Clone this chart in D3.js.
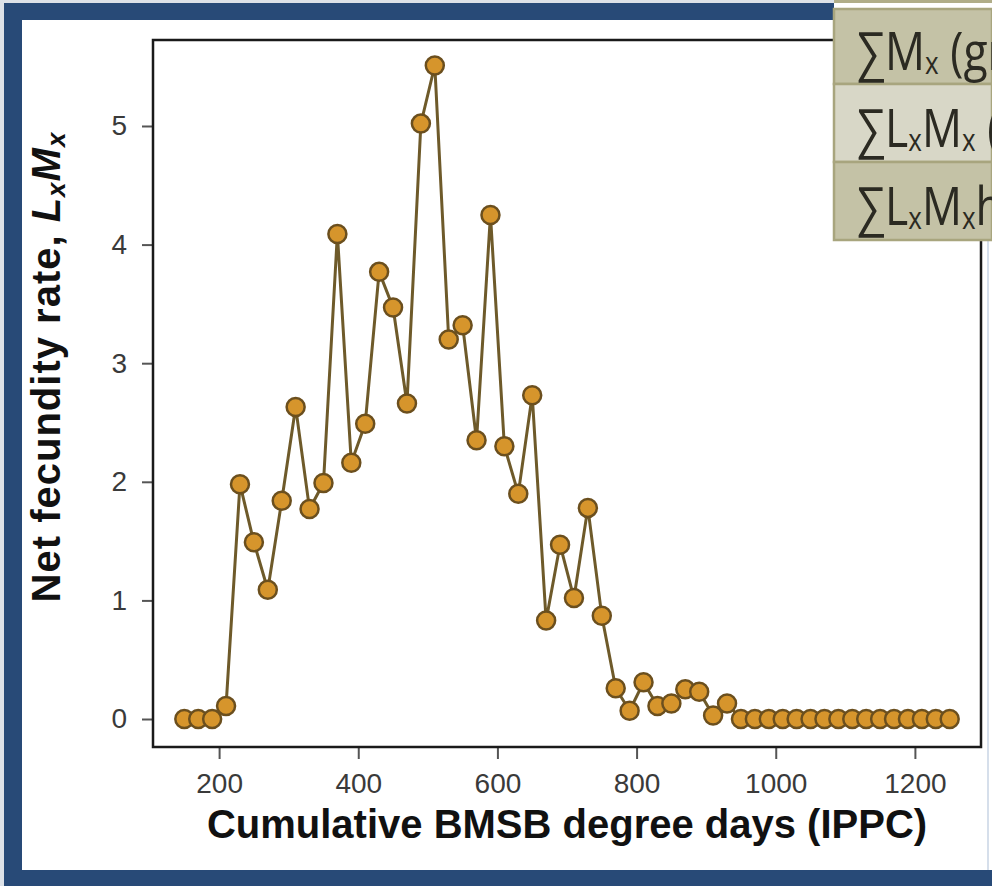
<!DOCTYPE html>
<html>
<head>
<meta charset="utf-8">
<script src="https://cdn.jsdelivr.net/npm/d3@7"></script>
<style>
  body { margin: 0; background: #fff; }
  svg { display: block; }
</style>
</head>
<body>
<div id="chart"></div>
<script>
var width = 992,
    height = 886;

// degree days (x) and net fecundity LxMx (y)
var degreeDays = [150, 170, 190, 210, 230, 250, 270, 290, 310, 330, 350, 370, 390, 410, 430, 450,
  470, 490, 510, 530, 550, 570, 590, 610, 630, 650, 670, 690, 710, 730, 750, 770, 790, 810, 830,
  850, 870, 890, 910, 930, 950, 970, 990, 1010, 1030, 1050, 1070, 1090, 1110, 1130, 1150, 1170,
  1190, 1210, 1230, 1250];
var fecundity = [0, 0, 0, 0.11, 1.98, 1.49, 1.09, 1.84, 2.63, 1.77, 1.99, 4.09, 2.16, 2.49, 3.77, 3.47,
  2.66, 5.02, 5.51, 3.2, 3.32, 2.35, 4.25, 2.3, 1.9, 2.73, 0.83, 1.47, 1.02, 1.78, 0.87, 0.26, 0.07,
  0.31, 0.11, 0.13, 0.25, 0.23, 0.03, 0.13, 0, 0, 0, 0, 0, 0, 0, 0, 0, 0, 0, 0, 0, 0, 0, 0];
var xTicks = [200, 400, 600, 800, 1000, 1200];
var yTicks = [0, 1, 2, 3, 4, 5];
var tableRows = ["M", "LM", "LMh"];

var data = degreeDays.map(function (d, i) { return { x: d, y: fecundity[i] }; });

var svg = d3.select("#chart")
  .append("svg")
  .attr("width", width)
  .attr("height", height);

// slide frame
svg.append("rect").attr("width", width).attr("height", height).attr("fill", "#dde2e8");
svg.append("rect").attr("x", 4).attr("y", 3).attr("width", width - 4).attr("height", height - 3).attr("fill", "#284a77");
svg.append("rect").attr("x", 22).attr("y", 20).attr("width", width - 22).attr("height", 850).attr("fill", "#fff");
svg.append("line").attr("x1", 988).attr("x2", 988).attr("y1", 20).attr("y2", 870)
  .attr("stroke", "#c9d5e4").attr("stroke-width", 1.5);

var mLeft = 153, mRight = 981, mTop = 40, mBottom = 747;

var x = d3.scaleLinear().domain([105, 1295]).range([mLeft, mRight]);
var y = d3.scaleLinear().domain([-0.236, 5.725]).range([mBottom, mTop]);

var xAxis = svg.append("g")
  .attr("transform", "translate(0," + mBottom + ")")
  .call(d3.axisBottom(x).tickValues(xTicks).tickSize(12).tickPadding(14).tickFormat(d3.format("d")));
var yAxis = svg.append("g")
  .attr("transform", "translate(" + mLeft + ",0)")
  .call(d3.axisLeft(y).tickValues(yTicks).tickSize(11).tickPadding(15).tickFormat(d3.format("d")));

[xAxis, yAxis].forEach(function (a) {
  a.select(".domain").remove();
  a.selectAll(".tick line").attr("stroke", "#555").attr("stroke-width", 2);
  a.selectAll(".tick text")
    .attr("fill", "#3a3a3a")
    .style("font-family", "'Liberation Sans', Arial, sans-serif")
    .style("font-size", "28px");
});

// plot box
svg.append("rect")
  .attr("x", mLeft).attr("y", mTop)
  .attr("width", mRight - mLeft).attr("height", mBottom - mTop)
  .attr("fill", "none").attr("stroke", "#1a1a1a").attr("stroke-width", 2.5);

var line = d3.line().x(function (d) { return x(d.x); }).y(function (d) { return y(d.y); });

svg.append("path")
  .datum(data)
  .attr("d", line)
  .attr("fill", "none")
  .attr("stroke", "#6e5a2a")
  .attr("stroke-width", 3);

svg.append("g").selectAll("circle")
  .data(data)
  .enter()
  .append("circle")
  .attr("cx", function (d) { return x(d.x); })
  .attr("cy", function (d) { return y(d.y); })
  .attr("r", 9)
  .attr("fill", "#d6952c")
  .attr("stroke", "#6b4f1e")
  .attr("stroke-width", 2.5);

// axis titles
svg.append("text")
  .attr("x", (mLeft + mRight) / 2)
  .attr("y", 838)
  .attr("text-anchor", "middle")
  .style("font-family", "'Liberation Sans', Arial, sans-serif")
  .style("font-weight", "bold")
  .style("font-size", "40px")
  .attr("fill", "#111")
  .text("Cumulative BMSB degree days (IPPC)");

var yt = svg.append("text")
  .attr("transform", "translate(60,367) rotate(-90)")
  .attr("text-anchor", "middle")
  .style("font-family", "'Liberation Sans', Arial, sans-serif")
  .style("font-weight", "bold")
  .style("font-size", "40px")
  .style("letter-spacing", "1px")
  .attr("fill", "#111");
yt.append("tspan").text("Net fecundity rate, ");
yt.append("tspan").style("font-style", "italic").text("L");
yt.append("tspan").style("font-style", "italic").style("font-size", "26px").attr("dy", 5).text("x");
yt.append("tspan").style("font-style", "italic").attr("dy", -5).text("M");
yt.append("tspan").style("font-style", "italic").style("font-size", "26px").attr("dy", 5).text("x");

// overlapping table (slide element)
var tx = 834;
svg.append("rect").attr("x", tx).attr("y", 0).attr("width", width - tx).attr("height", 3).attr("fill", "#b0ad88");
svg.append("rect").attr("x", tx).attr("y", 3).attr("width", width - tx).attr("height", 6).attr("fill", "#fff");
var rowTop = [9, 84, 162], rowH = [75, 78, 78], rowFill = ["#c4c2a6", "#d8d7c7", "#c4c2a6"];
var rows = svg.append("g").selectAll("g")
  .data(tableRows)
  .enter()
  .append("g");
rows.append("rect")
  .attr("x", tx)
  .attr("y", function (d, i) { return rowTop[i]; })
  .attr("width", width - tx)
  .attr("height", function (d, i) { return rowH[i]; })
  .attr("fill", function (d, i) { return rowFill[i]; })
  .attr("stroke", "#a8a57e")
  .attr("stroke-width", 2.5);

var labels = [
  [["∑", 0], ["M", 0], ["x", 1], [" (gr", 0]],
  [["∑", 0], ["L", 0], ["x", 1], ["M", 0], ["x", 1], [" (", 0]],
  [["∑", 0], ["L", 0], ["x", 1], ["M", 0], ["x", 1], ["h", 0]]
];
var baselines = [70, 147, 225];
labels.forEach(function (parts, i) {
  var t = svg.append("text")
    .attr("transform", "translate(857," + baselines[i] + ") scale(0.84,1)")
    .style("font-family", "'Open Sans', 'Noto Sans', sans-serif")
    .style("font-size", "53px")
    .attr("fill", "#2b2a22");
  var sub = false;
  parts.forEach(function (p) {
    var s = t.append("tspan").text(p[0]);
    if (p[1]) { s.style("font-size", "31px").attr("dy", 4); sub = true; }
    else if (sub) { s.attr("dy", -4); sub = false; }
  });
});
</script>
</body>
</html>
